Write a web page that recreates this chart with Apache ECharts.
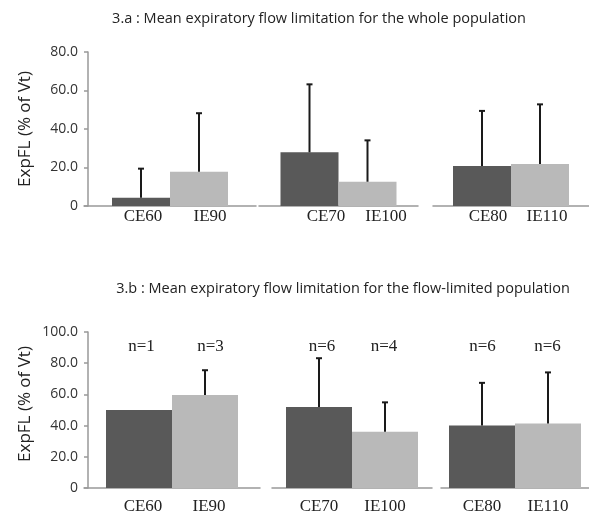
<!DOCTYPE html>
<html><head><meta charset="utf-8">
<script src="https://cdn.jsdelivr.net/npm/echarts@6/dist/echarts.min.js"></script>
<style>html,body{margin:0;padding:0;background:#fff}#c{width:589px;height:515px}</style>
</head><body><div id="c"></div>
<script>
// ---- data ----
const titleA = '3.a : Mean expiratory flow limitation for the whole population';
const titleB = '3.b : Mean expiratory flow limitation for the flow-limited population';
const yName = 'ExpFL (% of Vt)';
const ceCats = ['CE60', 'CE70', 'CE80'];
const ieCats = ['IE90', 'IE100', 'IE110'];
const ceMeanA = [4.3, 27.9, 20.8];
const ceSdA = [15.1, 35.3, 28.6];
const ieMeanA = [17.8, 12.6, 21.8];
const ieSdA = [30.4, 21.5, 31.0];
const ceMeanB = [50.0, 51.9, 40.0];
const ceSdB = [0, 31.3, 27.4];
const ieMeanB = [59.6, 36.1, 41.3];
const ieSdB = [15.9, 18.8, 32.8];
const nCE = [1, 6, 6];
const nIE = [3, 4, 6];
const yScaleA = { min: 0, max: 80, interval: 20 };
const yScaleB = { min: 0, max: 100, interval: 20 };

// ---- styles / layout ----
const DARK = '#595959', LIGHT = '#b9b9b9', AXIS = '#999999', ERR = '#1a1a1a';
const SANS = 'Open Sans', SERIF = 'Liberation Serif';
const panels = [
  { title: titleA, tx: 314, ty: 6, top: 52, height: 154, bw: 58, scale: yScaleA,
    ce: ceMeanA, ceSd: ceSdA, ie: ieMeanA, ieSd: ieSdA,
    grids: [[84, 172], [259, 159], [433, 156]],
    lab: [[67, 13], [60, 35], [59, 13]], labMargin: 2, namePad: [0, 0, 0, 0] },
  { title: titleB, tx: 338, ty: 276, top: 332, height: 156, bw: 66, scale: yScaleB,
    ce: ceMeanB, ceSd: ceSdB, ie: ieMeanB, ieSd: ieSdB,
    grids: [[84, 176], [272, 160], [441, 157]],
    lab: [[66, 8], [66, 0], [66, 0]], labMargin: 10, namePad: [0, 0, 0, 12],
    n: [[69, 8], [62, 2], [65, 0]] }
];

const option = { backgroundColor: '#fff', animation: false, title: [], grid: [], xAxis: [], yAxis: [], series: [] };

panels.forEach(function (p, pi) {
  option.title.push({ text: p.title, left: p.tx, top: p.ty, textAlign: 'center',
    textStyle: { fontFamily: SANS, fontSize: 14.5, fontWeight: 'normal', color: '#222' } });
  p.grids.forEach(function (g, gi) {
    const gIdx = option.grid.length;
    option.grid.push({ left: g[0], width: g[1], top: p.top, height: p.height, containLabel: false });
    const lw = p.lab[gi][0], lpad = p.lab[gi][1];
    option.xAxis.push({
      type: 'category', gridIndex: gIdx, data: [ceCats[gi]],
      axisLine: { show: true, lineStyle: { color: AXIS, width: 1.5 } },
      axisTick: { show: false }, splitLine: { show: false },
      axisLabel: {
        margin: p.labMargin, padding: [0, 0, 0, lpad],
        formatter: function () { return '{a|' + ceCats[gi] + '}{b|' + ieCats[gi] + '}'; },
        rich: {
          a: { width: lw, align: 'center', fontFamily: SERIF, fontSize: 17, color: '#222' },
          b: { width: lw, align: 'center', fontFamily: SERIF, fontSize: 17, color: '#222' }
        }
      }
    });
    if (p.n) {
      const nw = p.n[gi][0], npad = p.n[gi][1];
      option.xAxis.push({
        type: 'category', gridIndex: gIdx, position: 'top', data: [ceCats[gi]],
        axisLine: { show: false }, axisTick: { show: false }, splitLine: { show: false },
        axisLabel: {
          inside: true, margin: 6, padding: [0, 0, 0, npad],
          formatter: function () { return '{a|n=' + nCE[gi] + '}{b|n=' + nIE[gi] + '}'; },
          rich: {
            a: { width: nw, align: 'center', fontFamily: SERIF, fontSize: 17, color: '#222' },
            b: { width: nw, align: 'center', fontFamily: SERIF, fontSize: 17, color: '#222' }
          }
        }
      });
    }
    const first = gi === 0;
    option.yAxis.push({
      type: 'value', gridIndex: gIdx, min: p.scale.min, max: p.scale.max, interval: p.scale.interval,
      show: first, offset: first ? -4 : 0,
      name: first ? yName : '', nameLocation: 'middle', nameGap: 54, nameRotate: 90,
      nameTextStyle: { fontFamily: SANS, fontSize: 17, color: '#222', padding: p.namePad },
      axisLine: { show: first, lineStyle: { color: AXIS, width: 1.5 } },
      axisTick: { show: first, length: 4, lineStyle: { color: AXIS, width: 1.5 } },
      splitLine: { show: false },
      axisLabel: { show: first, margin: 10, fontFamily: SANS, fontSize: 14, color: '#333',
        formatter: function (v) { return v === 0 ? '0' : v.toFixed(1); } }
    });
    const xIdx = option.xAxis.length - (p.n ? 2 : 1);
    option.series.push({ type: 'bar', xAxisIndex: xIdx, yAxisIndex: gIdx, data: [p.ce[gi]],
      barWidth: p.bw, barGap: '0%', itemStyle: { color: DARK } });
    option.series.push({ type: 'bar', xAxisIndex: xIdx, yAxisIndex: gIdx, data: [p.ie[gi]],
      barWidth: p.bw, barGap: '0%', itemStyle: { color: LIGHT } });
    const bw = p.bw;
    option.series.push({
      type: 'custom', xAxisIndex: xIdx, yAxisIndex: gIdx, z: 5,
      data: [[0, p.ce[gi], p.ceSd[gi]], [0, p.ie[gi], p.ieSd[gi]]],
      encode: { x: 0, y: 1 },
      renderItem: function (params, api) {
        const sd = api.value(2);
        if (!sd) return null;
        const side = params.dataIndex === 0 ? -1 : 1;
        const mean = api.value(1);
        const p0 = api.coord([api.value(0), mean]);
        const p1 = api.coord([api.value(0), mean + sd]);
        const x = p0[0] + side * bw / 2;
        return { type: 'group', children: [
          { type: 'line', shape: { x1: x, y1: p0[1], x2: x, y2: p1[1] }, style: { stroke: ERR, lineWidth: 2 } },
          { type: 'line', shape: { x1: x - 3, y1: p1[1], x2: x + 3, y2: p1[1] }, style: { stroke: ERR, lineWidth: 2 } }
        ] };
      }
    });
  });
});

const chart = echarts.init(document.getElementById('c'), null, { renderer: 'canvas' });
chart.setOption(option);
</script>
</body></html>
